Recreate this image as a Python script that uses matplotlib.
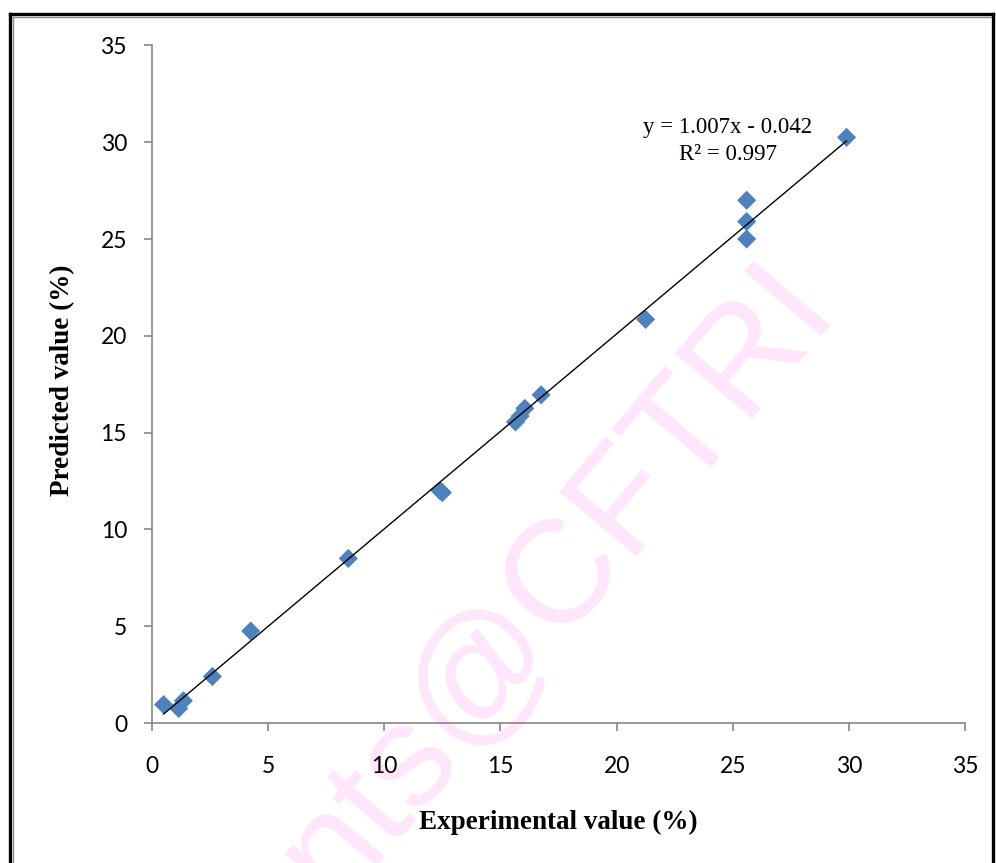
import matplotlib
matplotlib.use("Agg")
import matplotlib.pyplot as plt
from matplotlib.lines import Line2D
import numpy as np

# Experimental vs. model-predicted values (%)
experimental = [0.5, 1.15, 1.35, 2.6, 4.25, 8.45, 12.4, 12.5,
                15.65, 15.85, 16.05, 16.75, 21.25, 25.6, 25.6, 25.6, 29.9]
predicted = [0.95, 0.75, 1.15, 2.4, 4.75, 8.5, 12.0, 11.9,
             15.55, 15.85, 16.25, 16.95, 20.85, 27.0, 25.9, 25.0, 30.25]

# Linear fit reported on the chart
slope = 1.007
intercept = -0.042
r_squared = 0.997

x_ticks = [0, 5, 10, 15, 20, 25, 30, 35]
y_ticks = [0, 5, 10, 15, 20, 25, 30, 35]

W, H = 996, 863
fig = plt.figure(figsize=(W / 100, H / 100), dpi=100)
fig.patch.set_facecolor("white")


def fx(px):
    return px / W


def fy(py):
    return 1 - py / H


# Watermark behind everything
fig.text(fx(335), fy(904), "nts@CFTRI", fontsize=106, color="#FFE6FA",
         family="Liberation Sans", rotation=50, rotation_mode="anchor",
         ha="left", va="baseline", zorder=-5)

ax = fig.add_axes([fx(152), fy(723), fx(965) - fx(152), fy(45.4) - fy(723)])
ax.patch.set_alpha(0)
ax.set_zorder(1)

ax.scatter(experimental, predicted, marker="D", s=95, color="#4F81BD",
           edgecolor="none", zorder=3)

xs = np.array([min(experimental), max(experimental)])
ax.plot(xs, slope * xs + intercept, color="black", lw=1.0, zorder=4)

ax.set_xlim(0, 35)
ax.set_ylim(0, 35)
ax.set_xticks(x_ticks)
ax.set_yticks(y_ticks)
ax.set_xticklabels([str(t) for t in x_ticks])
ax.set_yticklabels([str(t) for t in y_ticks])

for side in ("top", "right"):
    ax.spines[side].set_visible(False)
for side in ("left", "bottom"):
    ax.spines[side].set_color("#868686")
    ax.spines[side].set_linewidth(1.2)

ax.tick_params(axis="both", direction="out", length=6, width=1.2,
               color="#868686", labelsize=16.5, labelcolor="black")
ax.tick_params(axis="x", pad=18)
ax.tick_params(axis="y", pad=12)
for lbl in ax.get_xticklabels() + ax.get_yticklabels():
    lbl.set_family("Lato")

eq_font = dict(family="Liberation Serif", fontsize=16.5, color="black",
               ha="center", va="center", zorder=5)
fig.text(fx(728), fy(127), f"y = {slope:.3f}x - {abs(intercept):.3f}", **eq_font)
fig.text(fx(728), fy(155), f"R² = {r_squared:.3f}", **eq_font)

fig.text(fx(558), fy(822), "Experimental value (%)", family="Liberation Serif",
         fontweight="bold", fontsize=19.5, ha="center", va="center", zorder=5)
fig.text(fx(63), fy(380), "Predicted value (%)", family="Liberation Serif",
         fontweight="bold", fontsize=19.5, rotation=90, ha="center",
         va="center", zorder=5)

# Outer frame
for (x0, y0, x1, y1), c, lw in [
    ((10, 14.5, 10, H + 5), "black", 2.4),
    ((10, 14.5, 993, 14.5), "black", 2.4),
    ((993, 14.5, 993, H + 5), "black", 2.4),
    ((12.5, 17, 12.5, H + 5), "#8C8C8C", 1.0),
    ((12.5, 17, 991, 17), "#8C8C8C", 1.0),
]:
    fig.add_artist(Line2D([fx(x0), fx(x1)], [fy(y0), fy(y1)],
                          transform=fig.transFigure, color=c, lw=lw, zorder=5))

fig.savefig("out.png", dpi=100, facecolor="white")
